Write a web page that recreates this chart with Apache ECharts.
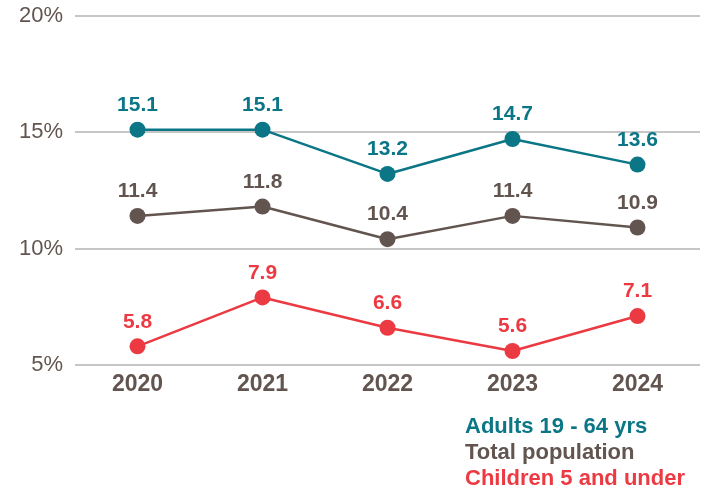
<!DOCTYPE html>
<html>
<head>
<meta charset="utf-8">
<script src="https://cdn.jsdelivr.net/npm/echarts@6/dist/echarts.min.js"></script>
<style>
  html, body { margin: 0; padding: 0; background: #fff; }
  #chart { width: 712px; height: 492px; }
</style>
</head>
<body>
<div id="chart"></div>
<script>
// Uninsured rate by group, 2020-2024
const years = ['2020', '2021', '2022', '2023', '2024'];
const adults = [15.1, 15.1, 13.2, 14.7, 13.6];
const totalPopulation = [11.4, 11.8, 10.4, 11.4, 10.9];
const children = [5.8, 7.9, 6.6, 5.6, 7.1];
const yTicks = [5, 10, 15, 20];

const TEAL = '#0b7686';
const BROWN = '#625550';
const RED = '#ec3a43';
const FONT = '"Liberation Sans", Arial, Helvetica, sans-serif';

function lineSeries(name, data, color) {
  return {
    name: name,
    type: 'line',
    data: data,
    symbol: 'circle',
    symbolSize: 16,
    itemStyle: { color: color },
    lineStyle: { color: color, width: 2.5 },
    label: {
      show: true,
      position: 'top',
      distance: 6,
      color: color,
      fontFamily: FONT,
      fontWeight: 'bold',
      fontSize: 21,
      formatter: p => p.value.toFixed(1)
    },
    emphasis: { disabled: true },
    animation: false
  };
}

const chart = echarts.init(document.getElementById('chart'));
chart.setOption({
  backgroundColor: '#fff',
  animation: false,
  grid: { left: 75, right: 12, top: 15.5, bottom: 127 },
  xAxis: {
    type: 'category',
    data: years,
    boundaryGap: true,
    axisLine: { show: false },
    axisTick: { show: false },
    axisLabel: {
      color: BROWN,
      fontFamily: FONT,
      fontWeight: 'bold',
      fontSize: 23,
      margin: 8
    }
  },
  yAxis: {
    type: 'value',
    min: yTicks[0],
    max: yTicks[yTicks.length - 1],
    interval: 5,
    axisLine: { show: false },
    axisTick: { show: false },
    splitLine: { lineStyle: { color: '#b3b3b3', width: 1.5 } },
    axisLabel: {
      color: BROWN,
      fontFamily: FONT,
      fontSize: 22,
      margin: 12,
      formatter: v => v + '%'
    }
  },
  legend: {
    orient: 'vertical',
    left: 460,
    top: 415,
    icon: 'none',
    itemWidth: 0,
    itemHeight: 10,
    itemGap: 2,
    padding: 0,
    selectedMode: false,
    textStyle: { fontFamily: FONT, fontWeight: 'bold', fontSize: 22, lineHeight: 24 },
    data: [
      { name: 'Adults 19 - 64 yrs', textStyle: { color: TEAL } },
      { name: 'Total population', textStyle: { color: BROWN } },
      { name: 'Children 5 and under', textStyle: { color: RED } }
    ]
  },
  series: [
    lineSeries('Adults 19 - 64 yrs', adults, TEAL),
    lineSeries('Total population', totalPopulation, BROWN),
    lineSeries('Children 5 and under', children, RED)
  ]
});
</script>
</body>
</html>
